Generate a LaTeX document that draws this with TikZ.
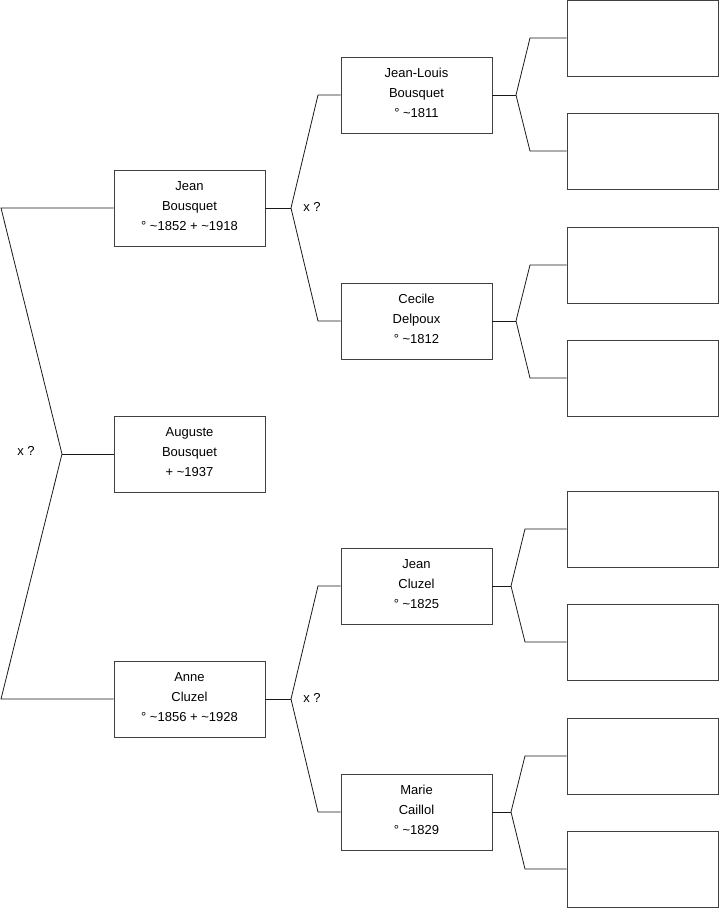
\documentclass[tikz,border=0pt]{standalone}
\usepackage{fontspec}
\setmainfont{Liberation Sans}
\usetikzlibrary{positioning}

\newcommand{\tld}{\textasciitilde}

\begin{document}
\begin{tikzpicture}[
    x=1pt, y=-1pt,
    person/.style={rectangle, draw=black!75, line width=0.9pt, fill=white,
                   minimum width=151pt, minimum height=76pt, inner sep=0pt,
                   text depth=4pt, align=center, font=\fontsize{13}{20}\selectfont},
    emptybox/.style={person},
    link/.style={draw=black!90, line width=0.8pt},
    union/.style={inner sep=0pt, font=\fontsize{13}{14}\selectfont}
]
\useasboundingbox (0,0) rectangle (719,908);

%% ===== GENERATION 1 =====
\node[person] (jean)    at (189.5,208) {Jean\\Bousquet\\° \tld1852 + \tld1918};
\node[person] (auguste) at (189.5,454) {Auguste\\Bousquet\\+ \tld1937};
\node[person] (anne)    at (189.5,699) {Anne\\Cluzel\\° \tld1856 + \tld1928};

%% ===== GENERATION 2 =====
\node[person] (jeanlouis) at (416.5,95)  {Jean-Louis\\Bousquet\\° \tld1811};
\node[person] (cecile)    at (416.5,321) {Cecile\\Delpoux\\° \tld1812};
\node[person] (jeanc)     at (416.5,586) {Jean\\Cluzel\\° \tld1825};
\node[person] (marie)     at (416.5,812) {Marie\\Caillol\\° \tld1829};

%% ===== GENERATION 3 (empty) =====
\node[emptybox] (e1) at (642.5,38)  {};
\node[emptybox] (e2) at (642.5,151) {};
\node[emptybox] (e3) at (642.5,265) {};
\node[emptybox] (e4) at (642.5,378) {};
\node[emptybox] (e5) at (642.5,529) {};
\node[emptybox] (e6) at (642.5,642) {};
\node[emptybox] (e7) at (642.5,756) {};
\node[emptybox] (e8) at (642.5,869) {};

%% ===== BRACKET POINTS =====
\coordinate (ltop) at (1,208);
\coordinate (lmid) at (62,454);
\coordinate (lbot) at (1,699);

\coordinate (jmid) at (291,208);
\coordinate (jtop) at (318,95);
\coordinate (jbot) at (318,321);

\coordinate (amid) at (291,699);
\coordinate (atop) at (318,586);
\coordinate (abot) at (318,812);

\coordinate (m1) at (516,95);  \coordinate (b1) at (530,38);  \coordinate (b2) at (530,151);
\coordinate (m2) at (516,321); \coordinate (b3) at (530,265); \coordinate (b4) at (530,378);
\coordinate (m3) at (511,586); \coordinate (b5) at (525,529); \coordinate (b6) at (525,642);
\coordinate (m4) at (511,812); \coordinate (b7) at (525,756); \coordinate (b8) at (525,869);

%% ===== CONNECTORS =====
\draw[link] (jean.west) -- (ltop) -- (lmid) -- (lbot) -- (anne.west);
\draw[link] (lmid) -- (auguste.west);

\draw[link] (jean.east) -- (jmid);
\draw[link] (jeanlouis.west) -- (jtop) -- (jmid) -- (jbot) -- (cecile.west);
\draw[link] (anne.east) -- (amid);
\draw[link] (jeanc.west) -- (atop) -- (amid) -- (abot) -- (marie.west);

\draw[link] (jeanlouis.east) -- (m1);
\draw[link] (e1.west) -- (b1) -- (m1) -- (b2) -- (e2.west);
\draw[link] (cecile.east) -- (m2);
\draw[link] (e3.west) -- (b3) -- (m2) -- (b4) -- (e4.west);
\draw[link] (jeanc.east) -- (m3);
\draw[link] (e5.west) -- (b5) -- (m3) -- (b6) -- (e6.west);
\draw[link] (marie.east) -- (m4);
\draw[link] (e7.west) -- (b7) -- (m4) -- (b8) -- (e8.west);

%% ===== UNION LABELS =====
\node[union] (u1) at (26,451)  {x ?};
\node[union] (u2) at (312,207) {x ?};
\node[union] (u3) at (312,698) {x ?};

\end{tikzpicture}
\end{document}
